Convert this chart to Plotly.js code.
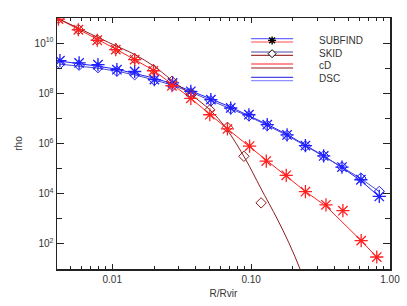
<!DOCTYPE html>
<html>
<head>
<meta charset="utf-8">
<script src="https://cdn.plot.ly/plotly-3.0.1.min.js"></script>
<style>html,body{margin:0;padding:0;background:#fff;}#plot{width:407px;height:306px;}</style>
</head>
<body>
<div id="plot"></div>
<script>
// ---- data ----
// SUBFIND, cD galaxy: points (red asterisks) and profile line (red)
const subCdX = [0.0041, 0.0057, 0.0078, 0.0106, 0.0145, 0.0198, 0.0269, 0.0368, 0.0504, 0.0675, 0.0975, 0.1285, 0.179, 0.246, 0.346, 0.458, 0.620, 0.803];
const subCdY = [9.1e10, 3.4e10, 1.3e10, 5.5e9, 2.2e9, 7.9e8, 2.0e8, 6.3e7, 1.4e7, 3.8e6, 7.9e5, 2.0e5, 5.4e4, 1.2e4, 3.6e3, 2.1e3, 135, 30];
const subCdLineX = [0.004, 0.0106, 0.0198, 0.0368, 0.0675, 0.1285, 0.246, 0.346, 0.62, 0.85];
const subCdLineY = [1.0e11, 5.8e9, 8.3e8, 6.3e7, 3.8e6, 2.1e5, 1.23e4, 3.2e3, 135, 21];

// SKID, cD galaxy: points (dark red diamonds) and fit line (dark red)
const skidCdX = [0.0041, 0.0057, 0.0078, 0.0106, 0.0145, 0.0198, 0.0269, 0.0370, 0.0504, 0.0675, 0.0887, 0.118];
const skidCdY = [9.5e10, 3.5e10, 1.35e10, 5.8e9, 2.4e9, 8.9e8, 3.0e8, 8.9e7, 2.2e7, 4.4e6, 3.1e5, 4.3e3];
const skidCdLineX = [0.004, 0.01, 0.0145, 0.0201, 0.0265, 0.0504, 0.0656, 0.0914, 0.117, 0.154, 0.187, 0.226, 0.26];
const skidCdLineY = [1.0e11, 9.1e9, 3.5e9, 1.17e9, 3.5e8, 2.2e7, 4.2e6, 2.3e5, 1.7e4, 1.0e3, 110, 9.3, 0.9];

// SUBFIND, diffuse stellar component: points (blue asterisks) and line
const subDscX = [0.0042, 0.00577, 0.00789, 0.0108, 0.0145, 0.0201, 0.0272, 0.0368, 0.0513, 0.0713, 0.0964, 0.1306, 0.1815, 0.246, 0.333, 0.451, 0.617, 0.837];
const subDscY = [2.0e9, 1.62e9, 1.38e9, 8.7e8, 7.4e8, 3.5e8, 2.6e8, 1.2e8, 5.6e7, 2.6e7, 1.4e7, 5.6e6, 2.2e6, 8.3e5, 3.2e5, 1.15e5, 3.6e4, 7.8e3];
const subDscLineY = [1.91e9, 1.55e9, 1.20e9, 9.1e8, 6.3e8, 4.0e8, 2.4e8, 1.26e8, 6.0e7, 2.8e7, 1.32e7, 5.8e6, 2.3e6, 8.7e5, 3.2e5, 1.10e5, 3.3e4, 7.6e3];

// SKID, diffuse stellar component: points (blue diamonds) and line
const skidDscY = [1.48e9, 1.32e9, 1.05e9, 7.6e8, 5.5e8, 3.3e8, 2.0e8, 1.05e8, 5.0e7, 2.4e7, 1.26e7, 5.2e6, 2.1e6, 7.9e5, 3.2e5, 1.17e5, 4.2e4, 1.23e4];
const skidDscLineY = [1.45e9, 1.23e9, 1.0e9, 7.6e8, 5.4e8, 3.4e8, 2.1e8, 1.1e8, 5.2e7, 2.5e7, 1.2e7, 5.2e6, 2.1e6, 8.1e5, 3.1e5, 1.15e5, 4.0e4, 1.2e4];

const xTickVals = [0.01, 0.1, 1];
const xTickText = ["0.01", "0.10", "1.00"];
const yTickVals = [1e2, 1e4, 1e6, 1e8, 1e10];
const yTickText = ["10<sup>2</sup>", "10<sup>4</sup>", "10<sup>6</sup>", "10<sup>8</sup>", "10<sup>10</sup>"];
const legendNames = ["SUBFIND", "SKID", "cD", "DSC"];

// ---- styles ----
const RED = "#ff2020", DARKRED = "#8e1e1e", BLUE = "#1e1eff", BLUE2 = "#4a4ad0";
const xMinor = [];
[0.001, 0.01, 0.1].forEach(d => { for (let k = 2; k <= 9; k++) xMinor.push(d * k); });
const yMinor = [1e1, 1e3, 1e5, 1e7, 1e9, 1e11];

function line(x, y, color, shape) {
  return {x: x, y: y, type: "scatter", mode: "lines", line: {color: color, width: 1, shape: shape || "linear"}, hoverinfo: "skip"};
}
function pts(x, y, color, symbol, size, w) {
  return {x: x, y: y, type: "scatter", mode: "markers", cliponaxis: true,
    marker: {symbol: symbol, size: size, color: color, line: {color: color, width: w}}, hoverinfo: "skip"};
}

const traces = [
  line(subDscX, subDscLineY, BLUE),
  line(subDscX, skidDscLineY, BLUE2),
  line(subCdLineX, subCdLineY, RED),
  line(skidCdLineX, skidCdLineY, DARKRED, "spline"),
  pts(subDscX, skidDscY, BLUE, "diamond-open", 8, 1),
  pts(subDscX, subDscY, BLUE, "asterisk-open", 11, 1.3),
  pts(skidCdX, skidCdY, DARKRED, "diamond-open", 8, 1),
  pts(subCdX, subCdY, RED, "asterisk-open", 11, 1.3)
];

// ---- legend drawn as shapes/annotations in paper coords ----
const L = 56.7, R = 390, T = 18.3, B = 269.3;
const px = v => (v - L) / (R - L);
const py = v => (B - v) / (B - T);
const legendRows = [
  {c: ["#6a6aff", "#ff4a4a"], ys: [39, 42.3], ty: 40.5},
  {c: ["#4a4aa8", "#a03a3a"], ys: [52.3, 55.7], ty: 53.8},
  {c: [RED, DARKRED], ys: [64.3, 68.3], ty: 66},
  {c: ["#4a4ae0", "#9090ff"], ys: [77.7, 81], ty: 79}
];
const shapes = [], annotations = [];
legendRows.forEach((r, i) => {
  r.ys.forEach((yy, j) => shapes.push({type: "line", xref: "paper", yref: "paper",
    x0: px(251), x1: px(293), y0: py(yy), y1: py(yy), line: {color: r.c[j], width: 1.2}}));
  annotations.push({xref: "paper", yref: "paper", x: px(317), y: py(r.ty), xanchor: "left", yanchor: "middle",
    text: legendNames[i], showarrow: false, font: {family: "Liberation Sans, Arial, sans-serif", size: 10, color: "#333"}});
});
// legend asterisk and diamond
(function () {
  const cx = 272, cy = 40.7, h = 4, d = 2.9;
  const p = `M${px(cx - h)},${py(cy)} L${px(cx + h)},${py(cy)} M${px(cx)},${py(cy - h)} L${px(cx)},${py(cy + h)} ` +
            `M${px(cx - d)},${py(cy - d)} L${px(cx + d)},${py(cy + d)} M${px(cx - d)},${py(cy + d)} L${px(cx + d)},${py(cy - d)}`;
  shapes.push({type: "path", xref: "paper", yref: "paper", path: p, line: {color: "#000", width: 1.4}});
  const dx = 272, dy = 54, s = 4;
  const q = `M${px(dx - s)},${py(dy)} L${px(dx)},${py(dy - s)} L${px(dx + s)},${py(dy)} L${px(dx)},${py(dy + s)} Z`;
  shapes.push({type: "path", xref: "paper", yref: "paper", path: q, fillcolor: "rgba(255,255,255,1)", line: {color: "#000", width: 1}});
})();

const axisFont = {family: "Liberation Sans, Arial, sans-serif", size: 10, color: "#333"};
const layout = {
  width: 407, height: 306,
  margin: {l: L, r: 407 - R, t: T, b: 306 - B, pad: 0},
  paper_bgcolor: "#fff", plot_bgcolor: "#fff",
  showlegend: false,
  xaxis: {
    type: "log", range: [Math.log10(0.004), 0],
    tickmode: "array", tickvals: xTickVals, ticktext: xTickText,
    ticks: "inside", ticklen: 5, tickwidth: 1, tickcolor: "#222",
    minor: {tickvals: xMinor, ticks: "inside", ticklen: 3, tickwidth: 1, tickcolor: "#222", showgrid: false},
    showline: true, linecolor: "#222", linewidth: 1.5, mirror: "ticks",
    showgrid: false, zeroline: false, tickfont: axisFont,
    title: {text: "R/Rvir", font: axisFont, standoff: 6}
  },
  yaxis: {
    type: "log", range: [1, 11],
    tickmode: "array", tickvals: yTickVals, ticktext: yTickText,
    ticks: "inside", ticklen: 7, tickwidth: 1, tickcolor: "#222",
    minor: {tickvals: yMinor, ticks: "inside", ticklen: 5, tickwidth: 1, tickcolor: "#222", showgrid: false},
    showline: true, linecolor: "#222", linewidth: 1.5, mirror: "ticks",
    showgrid: false, zeroline: false, tickfont: axisFont,
    title: {text: "rho", font: axisFont, standoff: 10}
  },
  shapes: shapes,
  annotations: annotations
};

Plotly.newPlot("plot", traces, layout, {staticPlot: true, displayModeBar: false});
</script>
</body>
</html>
